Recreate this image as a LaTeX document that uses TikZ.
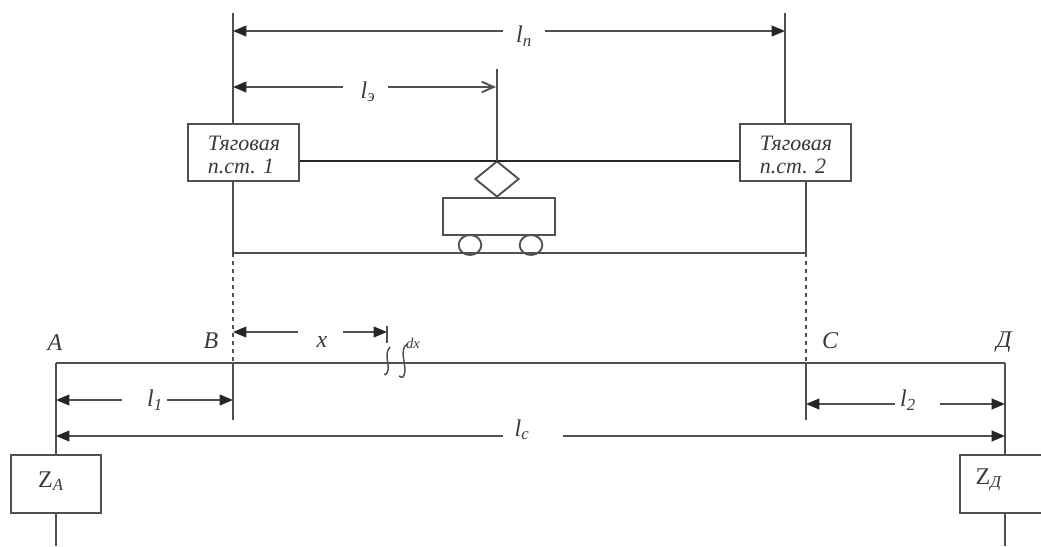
\documentclass[tikz,border=0pt]{standalone}
\usepackage{fontspec}
\setmainfont{Liberation Serif}
\usetikzlibrary{arrows.meta,positioning,shapes.geometric}
\definecolor{txt}{HTML}{3A3A3A}
\definecolor{wire}{HTML}{505050}
\newcommand{\ind}[2]{\textit{#1}\textsubscript{\textit{#2}}}

\begin{document}
\begin{tikzpicture}[
  x=0.75pt, y=-0.75pt,
  box/.style={rectangle, draw=wire, line width=1.4pt, minimum width=83pt, minimum height=43pt, inner sep=0pt},
  pst/.style={font=\fontsize{16.5}{17.5}\selectfont\itshape, text=txt, align=left},
  ln/.style={draw=wire, line width=1.4pt},
  dim/.style={draw=wire, line width=1.4pt, -{Triangle[length=10pt,width=8pt,color=black!85]}},
  lbl/.style={font=\fontsize{18}{20}\selectfont\itshape, text=txt, inner sep=0pt},
  pnt/.style={font=\fontsize{18}{20}\selectfont\itshape, text=txt, inner sep=0pt},
  zlb/.style={font=\fontsize{18}{20}\selectfont, text=txt, inner sep=0pt},
]
\useasboundingbox (0,0) rectangle (1041,546);

% substations
\node[box] (ts1) at (243.5,152.5) {};
\node[box] (ts2) at (795.5,152.5) {};
\node[pst] (ts1txt) at (244,155) {Тяговая\\п.ст. 1};
\node[pst] (ts2txt) at (796,155) {Тяговая\\п.ст. 2};

% tram
\node[draw=wire, line width=1.4pt, diamond, aspect=1.2, minimum width=33pt, minimum height=27pt, inner sep=0pt] (pant) at (497,179) {};
\node[draw=wire, line width=1.4pt, minimum width=84pt, minimum height=28pt, inner sep=0pt] (car) at (499,216.5) {};
\node[draw=wire, line width=1.4pt, ellipse, minimum width=17pt, minimum height=15pt, inner sep=0pt] (w1) at (470,245) {};
\node[draw=wire, line width=1.4pt, ellipse, minimum width=17pt, minimum height=15pt, inner sep=0pt] (w2) at (531,245) {};

% top end points
\coordinate (t1) at (233,13);
\coordinate (t2) at (785,13);
\coordinate (t3) at (497,69);
\coordinate (g1) at (233,253);
\coordinate (g2) at (806,253);
\coordinate (c1) at (497,161);

\draw[ln] (t1) -- (233,124);
\draw[ln] (t2) -- (785,124);
\draw[ln] (t3) -- (c1);
\draw[draw=black!85, line width=2pt] (ts1.east |- c1) -- (c1) -- (ts2.west |- c1);
\draw[ln] (c1) -- (pant.north);
\draw[ln] (pant.south) -- (pant.south |- car.north);
\draw[ln] (233,181) -- (g1) -- (g2) -- (806,181);

% line
\coordinate (a) at (56,363);
\coordinate (b) at (233,363);
\coordinate (c) at (806,363);
\coordinate (d) at (1005,363);
\coordinate (b2) at (233,420);
\coordinate (c2) at (806,420);

\draw[ln] (a) -- (d);
\draw[ln] (b) -- (b2);
\draw[ln] (c) -- (c2);
\draw[ln, dashed] (g1) -- (b);
\draw[ln, dashed] (g2) -- (c);

\node[box, minimum width=67.5pt] (za) at (56,484) {};
\node[box, minimum width=67.5pt] (zd) at (1005,484) {};
\node[zlb] (zatxt) at (51,481) {Z\textsubscript{\textit{A}}};
\node[zlb] (zdtxt) at (989,480) {Z\textsubscript{\textit{Д}}};
\coordinate (a3) at (56,546);
\coordinate (d3) at (1005,546);
\draw[ln] (a) -- (za.north);
\draw[ln] (d) -- (zd.north);
\draw[ln] (za.south) -- (a3);
\draw[ln] (zd.south) -- (d3);

% points
\node[pnt] (pa) at (55,343) {A};
\node[pnt] (pb) at (211,341) {B};
\node[pnt] (pc) at (830,341) {C};
\node[pnt] (pd) at (1004,342) {Д};

% dimensions
\node[lbl] (lp) at (524,36) {\ind{l}{п}};
\node[lbl] (le) at (368,92) {\ind{l}{э}};
\node[lbl] (l1) at (155,400) {\ind{l}{1}};
\node[lbl] (l2) at (908,400) {\ind{l}{2}};
\node[lbl] (lc) at (522,430) {\ind{l}{с}};
\node[lbl] (lx) at (322,342) {x};

\coordinate (lpa) at (503,31);
\coordinate (lpb) at (545,31);
\coordinate (lea) at (343,87);
\coordinate (leb) at (388,87);
\coordinate (lxa) at (298,332);
\coordinate (lxb) at (343,332);
\coordinate (l1a) at (122,400);
\coordinate (l1b) at (167,400);
\coordinate (l2a) at (895,404);
\coordinate (l2b) at (940,404);
\coordinate (lca) at (503,436);
\coordinate (lcb) at (563,436);

\draw[dim] (lpa) -- (233,31);
\draw[dim] (lpb) -- (785,31);
\draw[dim] (lea) -- (233,87);
\draw[ln, -{Straight Barb[length=9pt,width=8pt]}] (leb) -- (496,87);
\draw[dim] (lxa) -- (233,332);
\draw[dim] (lxb) -- (387,332);
\draw[ln] (387,326) -- (387,343);
\draw[dim] (l1a) -- (56,400);
\draw[dim] (l1b) -- (233,400);
\draw[dim] (l2a) -- (806,404);
\draw[dim] (l2b) -- (1005,404);
\draw[dim] (lca) -- (56,436);
\draw[dim] (lcb) -- (1005,436);

% dx cut
\draw[ln, line width=1.1pt] (390,347) .. controls (383,355) and (391,365) .. (387,373) .. controls (386,375) and (385,375) .. (384,374);
\draw[ln, line width=1.1pt] (407,344) .. controls (398,350) and (408,368) .. (404,375) .. controls (403,378) and (401,378) .. (399,376);
\node[font=\fontsize{11}{12}\selectfont\itshape, text=txt, inner sep=0pt] (dx) at (413,343) {dx};
\end{tikzpicture}
\end{document}
